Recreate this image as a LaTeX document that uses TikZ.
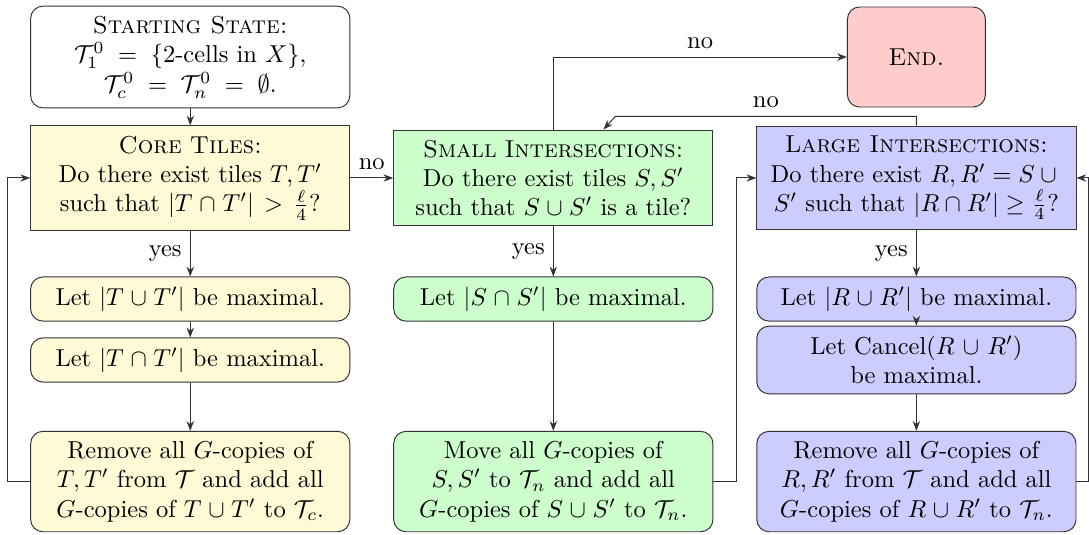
\documentclass[tikz,border=0pt]{standalone}
\definecolor{tileyellow}{rgb}{1.00,0.98,0.84}
\definecolor{tilegreen}{rgb}{0.80,1.00,0.80}
\definecolor{tileblue}{rgb}{0.80,0.80,1.00}
\definecolor{endred}{rgb}{1.00,0.80,0.80}
\definecolor{edgegray}{gray}{0.2}
\usepackage{amsmath,amssymb}
\usepackage{xcolor}
\usepackage{tikz}
\usetikzlibrary{arrows.meta,calc}
\tikzset{
  arr/.style={-{Stealth[length=4pt,width=3pt]},edgegray},
  boxbase/.style={draw=edgegray,text width=4.44cm,align=center,inner xsep=2pt,inner ysep=4pt},
  stepbox/.style={boxbase,rounded corners=5pt},
  askbox/.style={boxbase},
  startbox/.style={stepbox,fill=white,align=flush center},
  endbox/.style={draw=edgegray,rounded corners=5pt,fill=endred,minimum width=1.98cm,minimum height=1.435cm},
}
\begin{document}
\begin{tikzpicture}
        \useasboundingbox (0,0) rectangle (15.627,-7.663);
        \def\ca{2.73}\def\cb{7.94}\def\cc{13.15}
        % --- first column: core tiles (sariq) ---
        \node[startbox] (start) at (\ca,-0.818)
          {\textsc{Starting State:}\\ $\mathcal{T}_1^0 \;=\; \{\text{2-cells in } X\}$,\\ $\mathcal{T}_c^0 \;=\; \mathcal{T}_n^0 \;=\; \emptyset$.};
        \node[askbox,fill=tileyellow] (core) at (\ca,-2.554)
          {\textsc{Core Tiles:}\\ Do there exist tiles $T,T'$ such that $|T\cap T'|>\frac{\ell}{4}$?};
        \node[stepbox,fill=tileyellow] (tunion) at (\ca,-4.291) {Let $|T\cup T'|$ be maximal.};
        \node[stepbox,fill=tileyellow] (tcap) at (\ca,-5.166) {Let $|T\cap T'|$ be maximal.};
        \node[stepbox,fill=tileyellow] (tremove) at (\ca,-6.91)
          {Remove all $G$-copies of $T,T'$ from $\mathcal{T}$ and add all $G$-copies of $T\cup T'$ to $\mathcal{T}_c$.};
        % --- second column: small intersections (yashil) ---
        \node[askbox,fill=tilegreen] (small) at (\cb,-2.554)
          {\textsc{Small Intersections:}\\ Do there exist tiles $S,S'$ such that $S\cup S'$ is a tile?};
        \node[stepbox,fill=tilegreen] (scap) at (\cb,-4.291) {Let $|S\cap S'|$ be maximal.};
        \node[stepbox,fill=tilegreen] (smove) at (\cb,-6.91)
          {Move all $G$-copies of $S,S'$ to $\mathcal{T}_n$ and add all $G$-copies of $S\cup S'$ to $\mathcal{T}_n$.};
        % --- third column: large intersections (ko'k) ---
        \node[endbox] (end) at (\cc,-0.818) {\textsc{End.}};
        \node[askbox,fill=tileblue,align=flush center] (large) at (\cc,-2.554)
          {\textsc{Large Intersections:}\\ Do there exist $R,R'=S\cup{}$\\ $S'$ such that $|R\cap R'|\geq\frac{\ell}{4}$?};
        \node[stepbox,fill=tileblue] (runion) at (\cc,-4.291) {Let $|R\cup R'|$ be maximal.};
        \node[stepbox,fill=tileblue] (cancel) at (\cc,-5.166) {Let Cancel$(R\cup R')$\\ be maximal.};
        \node[stepbox,fill=tileblue] (rremove) at (\cc,-6.91)
          {Remove all $G$-copies of $R,R'$ from $\mathcal{T}$ and add all $G$-copies of $R\cup R'$ to $\mathcal{T}_n$.};
        % connectors
        \draw[arr] (start) -- (core);
        \draw[arr] (core) -- node[left,black]{yes} (tunion);
        \draw[arr] (tunion) -- (tcap);
        \draw[arr] (tcap) -- (tremove);
        \draw[arr] (tremove.west) -- ++(-0.33,0) |- (core.west);
        \draw[arr] (core) -- node[above,black]{no} (small);
        \draw[arr] (small) -- node[left,black]{yes} (scap);
        \draw[arr] (scap) -- (smove);
        \draw[arr] (smove.east) -- ++(0.33,0) |- (large.west);
        \draw[arr] (small.north) |- node[above,black,pos=0.75]{no} (end.west);
        \draw[arr] (large.north) |- node[above,black,pos=0.75]{no} ($(small.north)+(0.89,0.19)$) -- ($(small.north)+(0.72,0)$);
        \draw[arr] (large) -- node[left,black]{yes} (runion);
        \draw[arr] (runion) -- (cancel);
        \draw[arr] (cancel) -- (rremove);
        \draw[arr] (rremove.east) -- ++(0.17,0) |- (large.east);
      \end{tikzpicture}
\end{document}
